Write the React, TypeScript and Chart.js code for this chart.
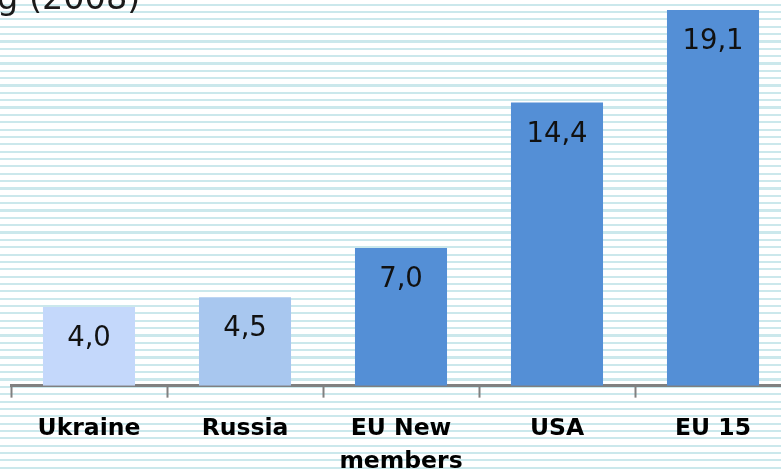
import React, { useEffect, useRef } from "react";
import { Chart, registerables } from "chart.js";

Chart.register(...registerables);

const categories: string[][] = [["Ukraine"], ["Russia"], ["EU New", "members"], ["USA"], ["EU 15"]];
const values: number[] = [4.0, 4.5, 7.0, 14.4, 19.1];
const barColors: string[] = ["#c4d8fb", "#a8c7ef", "#548fd6", "#548fd6", "#548fd6"];
const titleText = "g (2008)";

const valueLabels = {
  id: "valueLabels",
  afterDatasetsDraw(chart: any) {
    const ctx = chart.ctx;
    const meta = chart.getDatasetMeta(0);
    ctx.save();
    ctx.font = "27.5px 'DejaVu Sans'";
    ctx.fillStyle = "#111111";
    ctx.textAlign = "center";
    ctx.textBaseline = "middle";
    meta.data.forEach((bar: any, i: number) => {
      const txt = values[i].toFixed(1).replace(".", ",");
      ctx.fillText(txt, bar.x, bar.y + 32);
    });
    ctx.restore();
  },
};

const titlePlugin = {
  id: "cutTitle",
  afterDraw(chart: any) {
    const ctx = chart.ctx;
    ctx.save();
    ctx.font = "33.5px 'DejaVu Sans'";
    ctx.fillStyle = "#1a1a1a";
    ctx.textAlign = "left";
    ctx.textBaseline = "alphabetic";
    ctx.fillText(titleText, -3, 9);
    ctx.restore();
  },
};

export default function App() {
  const ref = useRef<HTMLCanvasElement>(null);
  useEffect(() => {
    document.body.style.margin = "0";
    const chart = new Chart(ref.current!, {
      type: "bar",
      data: {
        labels: categories,
        datasets: [
          {
            data: values,
            backgroundColor: barColors,
            borderWidth: 0,
            barPercentage: 0.59,
            categoryPercentage: 1,
          },
        ],
      },
      options: {
        responsive: false,
        animation: false,
        layout: { padding: { left: 11, right: 9, top: 0, bottom: 4.5 } },
        plugins: { legend: { display: false }, tooltip: { enabled: false }, title: { display: false } },
        scales: {
          x: {
            z: 1,
            offset: true,
            border: { display: true, color: "#808080", width: 3 },
            grid: {
              offset: true,
              drawOnChartArea: false,
              drawTicks: true,
              tickLength: 12,
              tickWidth: 2,
              tickColor: "#808080",
              color: "#808080",
            },
            ticks: {
              padding: 15.5,
              color: "#000000",
              font: { family: "'DejaVu Sans'", size: 23.5, weight: "bold", lineHeight: 1.38 },
              maxRotation: 0,
              autoSkip: false,
            },
          },
          y: {
            display: false,
            min: 0,
            max: 19.61,
          },
        },
      },
      plugins: [valueLabels, titlePlugin],
    });
    return () => chart.destroy();
  }, []);

  return (
    <div
      style={{
        position: "fixed",
        left: 0,
        top: 0,
        width: 781,
        height: 470,
        overflow: "hidden",
        backgroundColor: "#ffffff",
        backgroundImage:
          "repeating-linear-gradient(to bottom, #ffffff 0px, #ffffff 3.6px, #cbe8ec 3.6px, #cbe8ec 5.8px, #ffffff 5.8px, #ffffff 7.35px)",
      }}
    >
      <canvas ref={ref} width={800} height={498} style={{ display: "block" }} />
    </div>
  );
}
